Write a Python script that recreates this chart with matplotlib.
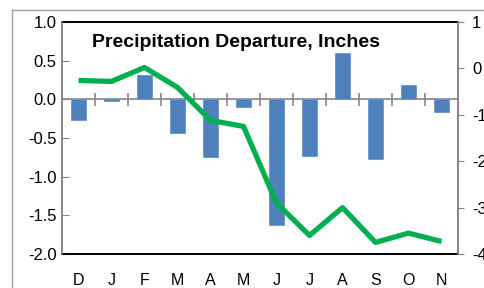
import matplotlib
matplotlib.use("Agg")
import matplotlib.pyplot as plt
import numpy as np
from matplotlib.lines import Line2D

# --- data ---
months = ['D', 'J', 'F', 'M', 'A', 'M', 'J', 'J', 'A', 'S', 'O', 'N']
monthly_departure = [-0.27, -0.02, 0.31, -0.43, -0.74, -0.10, -1.62, -0.73, 0.60, -0.77, 0.19, -0.16]
cumulative_departure = [-0.26, -0.28, 0.02, -0.41, -1.12, -1.25, -2.90, -3.60, -3.00, -3.75, -3.55, -3.73]
left_ticks = [1.0, 0.5, 0.0, -0.5, -1.0, -1.5, -2.0]
right_ticks = [1, 0, -1, -2, -3, -4]

BAR_COLOR = '#4F81BD'
LINE_COLOR = '#00B050'
GRAY = '#868686'

plt.rcParams['font.family'] = ['Liberation Sans', 'DejaVu Sans']

fig = plt.figure(figsize=(4.85, 2.88), dpi=100)
ax = fig.add_axes([62 / 485, 34 / 288, 396 / 485, 232 / 288])

x = np.arange(len(months))
ax.bar(x, monthly_departure, width=0.45, color=BAR_COLOR, edgecolor='#6C93C8', linewidth=0.6, zorder=2)

ax.set_xlim(-0.5, len(months) - 0.5)
ax.set_ylim(-2.0, 1.0)
ax.set_yticks(left_ticks)
ax.set_yticklabels([f'{v:.1f}' for v in left_ticks])
ax.set_xticks(x)
ax.set_xticklabels(months)
ax.tick_params(axis='x', length=0, pad=14, labelsize=11.5)
ax.tick_params(axis='y', direction='in', length=5, color=GRAY, pad=4, labelsize=12)

for side in ['left', 'right']:
    ax.spines[side].set_color(GRAY)
    ax.spines[side].set_linewidth(1.2)
for side in ['top', 'bottom']:
    ax.spines[side].set_color('black')
    ax.spines[side].set_linewidth(1.4)

# category axis through zero with boundary ticks
ax.axhline(0, color=GRAY, linewidth=1.2, zorder=1)
bounds = x[:-1] + 0.5
ax.vlines(bounds, -0.08, 0.08, color=GRAY, linewidth=1.2, zorder=1)

ax.text(0.44, 0.91, 'Precipitation Departure, Inches', transform=ax.transAxes,
        ha='center', va='center', fontsize=14, fontweight='bold', zorder=5)

ax2 = ax.twinx()
ax2.plot(x, cumulative_departure, color=LINE_COLOR, linewidth=3.8, solid_joinstyle='round',
         solid_capstyle='butt', zorder=3)
ax2.set_ylim(-4, 1)
ax2.set_yticks(right_ticks)
ax2.set_yticklabels([str(v) for v in right_ticks])
ax2.tick_params(axis='y', direction='out', length=4, color=GRAY, pad=6, labelsize=12)
for side in ['left', 'right']:
    ax2.spines[side].set_color(GRAY)
    ax2.spines[side].set_linewidth(1.2)
for side in ['top', 'bottom']:
    ax2.spines[side].set_visible(False)

# outer chart frame (cropped in the reference)
fig.add_artist(Line2D([12 / 485, 12 / 485], [0, 278 / 288], color='#A0A0A0', linewidth=1.0))
fig.add_artist(Line2D([12 / 485, 1], [278 / 288, 278 / 288], color='#A0A0A0', linewidth=1.0))

fig.savefig('out.png', dpi=100)
